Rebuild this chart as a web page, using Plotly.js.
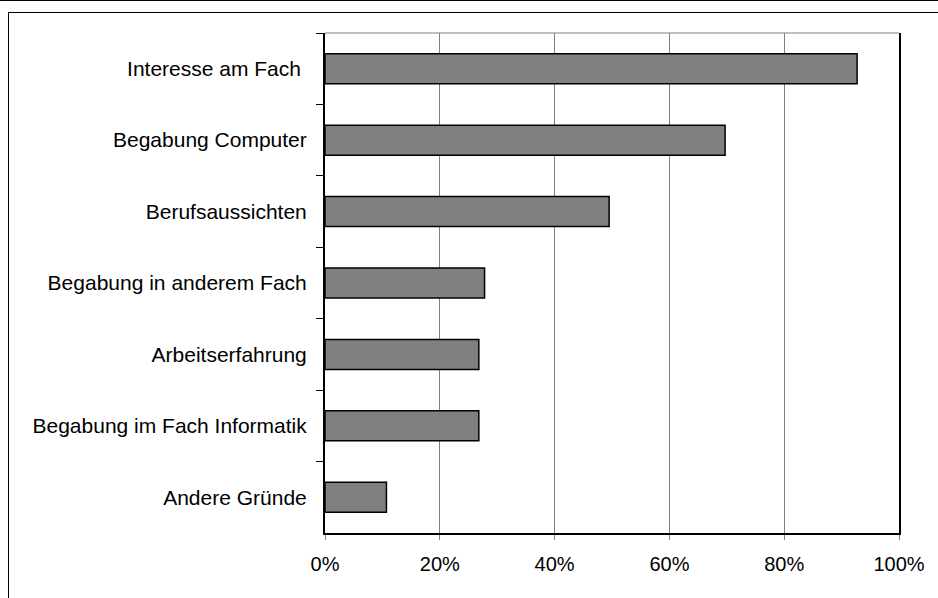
<!DOCTYPE html>
<html>
<head>
<meta charset="utf-8">
<script src="https://cdn.plot.ly/plotly-3.0.1.min.js"></script>
<style>
  html, body { margin: 0; padding: 0; background: #ffffff; }
  #chart { width: 938px; height: 598px; }
</style>
</head>
<body>
<div id="chart"></div>
<script>
// Gründe für die Studienwahl (Anteil der Nennungen)
const reasons = [
  "Interesse am Fach\u00a0",
  "Begabung Computer",
  "Berufsaussichten",
  "Begabung in anderem Fach",
  "Arbeitserfahrung",
  "Begabung im Fach Informatik",
  "Andere Gründe"
];
const shares = [0.927, 0.697, 0.495, 0.278, 0.268, 0.268, 0.107];
const xTickValues = [0, 0.2, 0.4, 0.6, 0.8, 1.0];
const xTickLabels = ["0%", "20%", "40%", "60%", "80%", "100%"];

const W = 938, H = 598;
const margin = { l: 325, r: 39, t: 33, b: 65 };
const pw = W - margin.l - margin.r;
const ph = H - margin.t - margin.b;
// convert pixel positions on the page into paper coordinates for the frame lines
const px = x => (x - margin.l) / pw;
const py = y => 1 - (y - margin.t) / ph;

const trace = {
  type: "bar",
  orientation: "h",
  x: shares,
  y: reasons,
  marker: { color: "#808080", line: { color: "#000000", width: 1.5 } },
  hoverinfo: "x+y"
};

const layout = {
  width: W,
  height: H,
  margin: margin,
  paper_bgcolor: "#ffffff",
  plot_bgcolor: "#ffffff",
  font: { family: "Liberation Sans, Arial, sans-serif", size: 21, color: "#000000" },
  showlegend: false,
  bargap: 0.58,
  xaxis: {
    range: [0, 1],
    tickvals: xTickValues,
    ticktext: xTickLabels,
    tickfont: { size: 20 },
    ticks: "outside",
    ticklen: 5,
    tickwidth: 1,
    tickcolor: "#808080",
    ticklabelstandoff: 7,
    showgrid: true,
    gridcolor: "#808080",
    gridwidth: 1,
    zeroline: false,
    showline: true,
    linecolor: "#000000",
    linewidth: 2,
    fixedrange: true
  },
  yaxis: {
    type: "category",
    autorange: "reversed",
    tickson: "boundaries",
    ticks: "outside",
    ticklen: 7,
    tickwidth: 1,
    tickcolor: "#000000",
    ticklabelstandoff: 12,
    showgrid: false,
    zeroline: false,
    showline: true,
    mirror: true,
    linecolor: "#000000",
    linewidth: 2,
    fixedrange: true
  },
  shapes: [
    // top edge of the plot area
    { type: "line", xref: "paper", yref: "paper", x0: 0, x1: 1, y0: 1, y1: 1,
      line: { color: "#808080", width: 1 } },
    // outer chart frame
    { type: "line", xref: "paper", yref: "paper", x0: px(0), x1: px(W), y0: py(0.5), y1: py(0.5),
      line: { color: "#000000", width: 1 } },
    { type: "line", xref: "paper", yref: "paper", x0: px(8.5), x1: px(W), y0: py(12.5), y1: py(12.5),
      line: { color: "#000000", width: 1 } },
    { type: "line", xref: "paper", yref: "paper", x0: px(8.5), x1: px(8.5), y0: py(12.5), y1: py(H),
      line: { color: "#000000", width: 1 } }
  ]
};

Plotly.newPlot("chart", [trace], layout, { displayModeBar: false, staticPlot: true });
</script>
</body>
</html>
